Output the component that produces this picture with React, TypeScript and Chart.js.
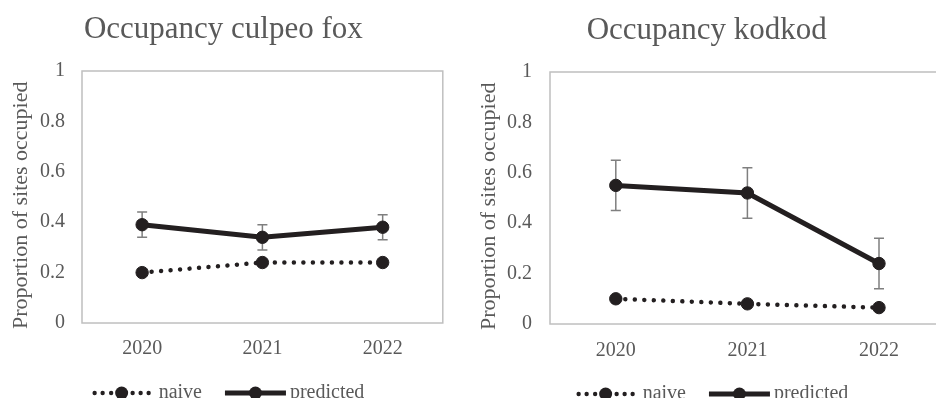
import { useEffect, useRef } from 'react';
import { Chart, registerables } from 'chart.js';

Chart.register(...registerables);

// ---- data ----
const years = ['2020', '2021', '2022'];
const seriesLabels = ['naive', 'predicted'];
const foxNaive = [0.2, 0.24, 0.24];
const foxPredicted = [0.39, 0.34, 0.38];
const foxLower = [0.34, 0.29, 0.33];
const foxUpper = [0.44, 0.39, 0.43];
const kodkodNaive = [0.1, 0.08, 0.065];
const kodkodPredicted = [0.55, 0.52, 0.24];
const kodkodLower = [0.45, 0.42, 0.14];
const kodkodUpper = [0.65, 0.62, 0.34];
const yTicks = [0, 0.2, 0.4, 0.6, 0.8, 1];
const yTitle = 'Proportion of sites occupied';

// ---- styles ----
const FONT = "'Liberation Serif', 'Times New Roman', serif";
const TEXT = '#595959';
const INK = '#231f20';
const WHISKER = '#7f7f7f';
const FRAME = '#bfbfbf';

const framePlugin = {
  id: 'plotFrame',
  beforeDatasetsDraw(chart: any) {
    const { ctx, chartArea: a } = chart;
    ctx.save();
    ctx.strokeStyle = FRAME;
    ctx.lineWidth = 1.5;
    ctx.strokeRect(a.left, a.top, a.right - a.left, a.bottom - a.top);
    ctx.restore();
  },
};

const errorBarPlugin = {
  id: 'errorBars',
  beforeDatasetsDraw(chart: any, _args: any, opts: any) {
    if (!opts || !opts.lower) return;
    const { ctx } = chart;
    const xs = chart.scales.x;
    const ys = chart.scales.y;
    ctx.save();
    ctx.strokeStyle = WHISKER;
    ctx.lineWidth = 1.5;
    opts.lower.forEach((lo: number, i: number) => {
      const x = xs.getPixelForValue(i);
      const yl = ys.getPixelForValue(lo);
      const yu = ys.getPixelForValue(opts.upper[i]);
      ctx.beginPath();
      ctx.moveTo(x, yl);
      ctx.lineTo(x, yu);
      ctx.moveTo(x - 5, yl);
      ctx.lineTo(x + 5, yl);
      ctx.moveTo(x - 5, yu);
      ctx.lineTo(x + 5, yu);
      ctx.stroke();
    });
    ctx.restore();
  },
};

const lineLegendPlugin = {
  id: 'lineLegend',
  afterDraw(chart: any, _args: any, opts: any) {
    const { ctx } = chart;
    const labels = chart.data.datasets.map((d: any) => d.label);
    ctx.save();
    ctx.font = `20px ${FONT}`;
    const glyphW = [58, 61];
    const textGap = [8, 4];
    const itemGap = 23;
    const tw = labels.map((t: string) => ctx.measureText(t).width);
    const total = glyphW[0] + textGap[0] + tw[0] + itemGap + glyphW[1] + textGap[1] + tw[1];
    let x = chart.width / 2 + opts.centerShift - total / 2;
    const cy = chart.chartArea.bottom + opts.offsetY;
    ctx.fillStyle = INK;
    // naive glyph: dotted with marker
    [2, 10, 18.5, 40, 48, 56].forEach((dx) => {
      ctx.beginPath();
      ctx.arc(x + dx, cy, 2.2, 0, Math.PI * 2);
      ctx.fill();
    });
    ctx.beginPath();
    ctx.arc(x + 29, cy, 6.5, 0, Math.PI * 2);
    ctx.fill();
    x += glyphW[0] + textGap[0];
    ctx.fillStyle = TEXT;
    ctx.textBaseline = 'middle';
    ctx.textAlign = 'left';
    ctx.fillText(labels[0], x, cy);
    x += tw[0] + itemGap;
    // predicted glyph: solid thick line with marker
    ctx.strokeStyle = INK;
    ctx.lineWidth = 5;
    ctx.beginPath();
    ctx.moveTo(x, cy);
    ctx.lineTo(x + glyphW[1], cy);
    ctx.stroke();
    ctx.fillStyle = INK;
    ctx.beginPath();
    ctx.arc(x + glyphW[1] / 2, cy, 6.5, 0, Math.PI * 2);
    ctx.fill();
    x += glyphW[1] + textGap[1];
    ctx.fillStyle = TEXT;
    ctx.fillText(labels[1], x, cy);
    ctx.restore();
  },
};

interface PanelParams {
  title: string;
  naive: number[];
  predicted: number[];
  lower: number[];
  upper: number[];
  yAxisWidth: number;
  yTitlePad: number;
  tickPad: number;
  rightPad: number;
  xTickPad: number;
}

function makeConfig(p: PanelParams): any {
  return {
    type: 'line',
    data: {
      labels: years,
      datasets: [
        {
          label: seriesLabels[0],
          data: p.naive,
          borderColor: INK,
          backgroundColor: INK,
          borderWidth: 4.5,
          borderDash: [0.01, 9.5],
          borderCapStyle: 'round',
          pointRadius: 6.2,
          pointBorderWidth: 1,
          pointBackgroundColor: INK,
          pointBorderColor: INK,
          tension: 0,
        },
        {
          label: seriesLabels[1],
          data: p.predicted,
          borderColor: INK,
          backgroundColor: INK,
          borderWidth: 5,
          pointRadius: 6.2,
          pointBorderWidth: 1,
          pointBackgroundColor: INK,
          pointBorderColor: INK,
          tension: 0,
        },
      ],
    },
    options: {
      responsive: false,
      animation: false,
      layout: { padding: { left: 0, right: p.rightPad, top: 0, bottom: 37 } },
      plugins: {
        legend: { display: false },
        tooltip: { enabled: false },
        title: {
          display: true,
          text: p.title,
          color: TEXT,
          font: { family: FONT, size: 31, weight: 'normal' },
          padding: { top: 11.4, bottom: 22.4 },
        },
        errorBars: { lower: p.lower, upper: p.upper },
        lineLegend: { centerShift: 3.5, offsetY: 70 },
      },
      scales: {
        x: {
          type: 'category',
          offset: true,
          grid: { display: false, drawTicks: false },
          border: { display: false },
          ticks: { color: TEXT, font: { family: FONT, size: 20 }, padding: p.xTickPad },
          afterFit: (s: any) => {
            s.height = 50;
          },
        },
        y: {
          min: 0,
          max: 1,
          grid: { display: false, drawTicks: false },
          border: { display: false },
          ticks: {
            color: TEXT,
            font: { family: FONT, size: 20 },
            padding: p.tickPad,
            callback: (v: any) => String(v),
          },
          afterBuildTicks: (s: any) => {
            s.ticks = yTicks.map((v) => ({ value: v }));
          },
          title: {
            display: true,
            text: yTitle + '   ',
            color: TEXT,
            font: { family: FONT, size: 22 },
            padding: { top: p.yTitlePad, bottom: 0 },
          },
          afterFit: (s: any) => {
            s.width = p.yAxisWidth;
          },
        },
      },
    },
    plugins: [framePlugin, errorBarPlugin, lineLegendPlugin],
  };
}

export default function App() {
  const leftRef = useRef<HTMLCanvasElement>(null);
  const rightRef = useRef<HTMLCanvasElement>(null);

  useEffect(() => {
    const left = new Chart(
      leftRef.current as HTMLCanvasElement,
      makeConfig({
        title: 'Occupancy culpeo fox',
        naive: foxNaive,
        predicted: foxPredicted,
        lower: foxLower,
        upper: foxUpper,
        yAxisWidth: 82,
        yTitlePad: 8.3,
        tickPad: 17,
        rightPad: 3.3,
        xTickPad: 14,
      })
    );
    const right = new Chart(
      rightRef.current as HTMLCanvasElement,
      makeConfig({
        title: 'Occupancy kodkod',
        naive: kodkodNaive,
        predicted: kodkodPredicted,
        lower: kodkodLower,
        upper: kodkodUpper,
        yAxisWidth: 84,
        yTitlePad: 10.5,
        tickPad: 18,
        rightPad: 4.5,
        xTickPad: 15,
      })
    );
    return () => {
      left.destroy();
      right.destroy();
    };
  }, []);

  return (
    <div
      style={{
        position: 'fixed',
        left: 0,
        top: 0,
        width: 936,
        height: 398,
        overflow: 'hidden',
        background: '#ffffff',
      }}
    >
      <canvas
        ref={leftRef}
        width={450}
        height={410}
        style={{ position: 'absolute', left: 0, top: 0, width: 450, height: 410 }}
      />
      <canvas
        ref={rightRef}
        width={486}
        height={410}
        style={{ position: 'absolute', left: 466, top: 1, width: 486, height: 410 }}
      />
    </div>
  );
}
